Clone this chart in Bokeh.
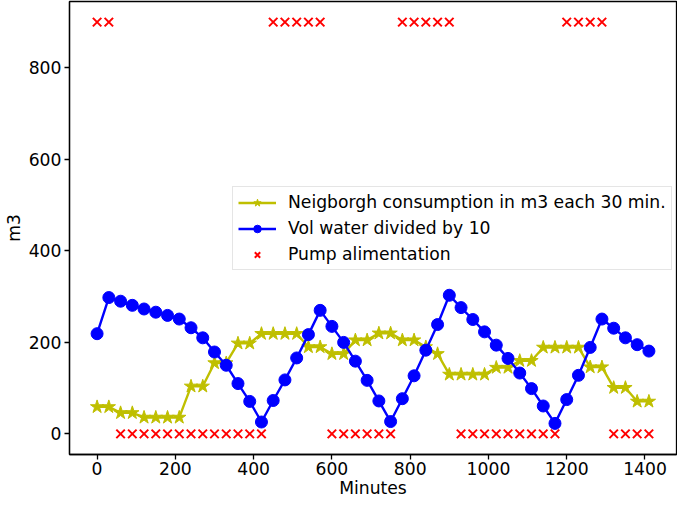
from bokeh.plotting import figure
from bokeh.models import Range1d, FixedTicker, Legend, LegendItem
from bokeh.embed import file_html
from bokeh.resources import INLINE

minutes = [0, 30, 60, 90, 120, 150, 180, 210, 240, 270, 300, 330, 360, 390, 420, 450,
           480, 510, 540, 570, 600, 630, 660, 690, 720, 750, 780, 810, 840, 870, 900, 930,
           960, 990, 1020, 1050, 1080, 1110, 1140, 1170, 1200, 1230, 1260, 1290, 1320, 1350,
           1380, 1410]

consumption = [59, 59, 46, 46, 36, 36, 36, 36, 104, 104, 155, 155, 198, 198, 219, 219,
               219, 219, 190, 190, 175, 175, 205, 205, 220, 220, 205, 205, 190, 175, 130, 130,
               130, 130, 145, 145, 160, 160, 189, 189, 189, 189, 146, 146, 101, 101,
               71, 71]

vol_water = [219, 298, 290, 281, 273, 266, 259, 251, 232, 210, 179, 150, 110, 71, 26, 73,
             118, 166, 217, 270, 235, 200, 159, 117, 72, 27, 77, 127, 183, 239, 303, 276,
             250, 223, 194, 165, 133, 99, 61, 23, 75, 128, 189, 251, 231, 210,
             195, 181]

pump = [900, 900, 0, 0, 0, 0, 0, 0, 0, 0, 0, 0, 0, 0, 0, 900,
        900, 900, 900, 900, 0, 0, 0, 0, 0, 0, 900, 900, 900, 900, 900, 0,
        0, 0, 0, 0, 0, 0, 0, 0, 900, 900, 900, 900, 0, 0,
        0, 0]

x_ticks = [0, 200, 400, 600, 800, 1000, 1200, 1400]
y_ticks = [0, 200, 400, 600, 800]

labels = ["Neigborgh consumption in m3 each 30 min.",
          "Vol water divided by 10",
          "Pump alimentation"]

FONT = "DejaVu Sans"
FS = "17.2px"

p = figure(width=677, height=500, output_backend="svg", toolbar_location=None,
           x_range=Range1d(-70.5, 1480.5), y_range=Range1d(-45, 945),
           min_border_left=58, min_border_right=1, min_border_top=1, min_border_bottom=40)

p.grid.visible = False
p.outline_line_color = "black"
p.outline_line_width = 1.3
p.background_fill_color = "white"
p.border_fill_color = "white"

l1 = p.line(minutes, consumption, line_color="#bfbf00", line_width=2.4)
s1 = p.scatter(minutes, consumption, marker="star", size=14, fill_color="#bfbf00",
               line_color="#bfbf00")
l2 = p.line(minutes, vol_water, line_color="#0000ff", line_width=2.4)
s2 = p.scatter(minutes, vol_water, marker="circle", size=12, fill_color="#0000ff",
               line_color="#0000ff")
s3 = p.scatter(minutes, pump, marker="x", size=12, line_color="#ff0000", line_width=2)

p.xaxis.ticker = FixedTicker(ticks=x_ticks)
p.yaxis.ticker = FixedTicker(ticks=y_ticks)
p.xaxis.axis_label = "Minutes"
p.yaxis.axis_label = "m3"
for ax in (p.xaxis, p.yaxis):
    ax.axis_label_text_font = FONT
    ax.axis_label_text_font_size = FS
    ax.axis_label_text_font_style = "normal"
    ax.axis_label_text_color = "black"
    ax.major_label_text_font = FONT
    ax.major_label_text_font_size = FS
    ax.major_label_text_color = "black"
    ax.axis_line_width = 1.3
    ax.major_tick_line_width = 1.3
    ax.major_tick_in = 0
    ax.major_tick_out = 5
    ax.minor_tick_line_color = None
    ax.major_label_standoff = 3
    ax.axis_label_standoff = 2
p.xaxis.major_label_standoff = 2
p.xaxis.axis_label_standoff = 0

legend = Legend(items=[LegendItem(label=labels[0], renderers=[l1, s1]),
                       LegendItem(label=labels[1], renderers=[l2, s2]),
                       LegendItem(label=labels[2], renderers=[s3])],
                location=(163, 184))
legend.label_text_font = FONT
legend.label_text_font_size = FS
legend.label_text_color = "black"
legend.glyph_width = 38
legend.glyph_height = 19
legend.label_height = 19
legend.spacing = 6
legend.label_standoff = 12
legend.padding = 5
legend.margin = 0
legend.border_line_color = "#cccccc"
legend.border_line_width = 1
legend.background_fill_alpha = 0.8
p.add_layout(legend, "center")

open("out.html", "w").write(file_html(p, INLINE))
